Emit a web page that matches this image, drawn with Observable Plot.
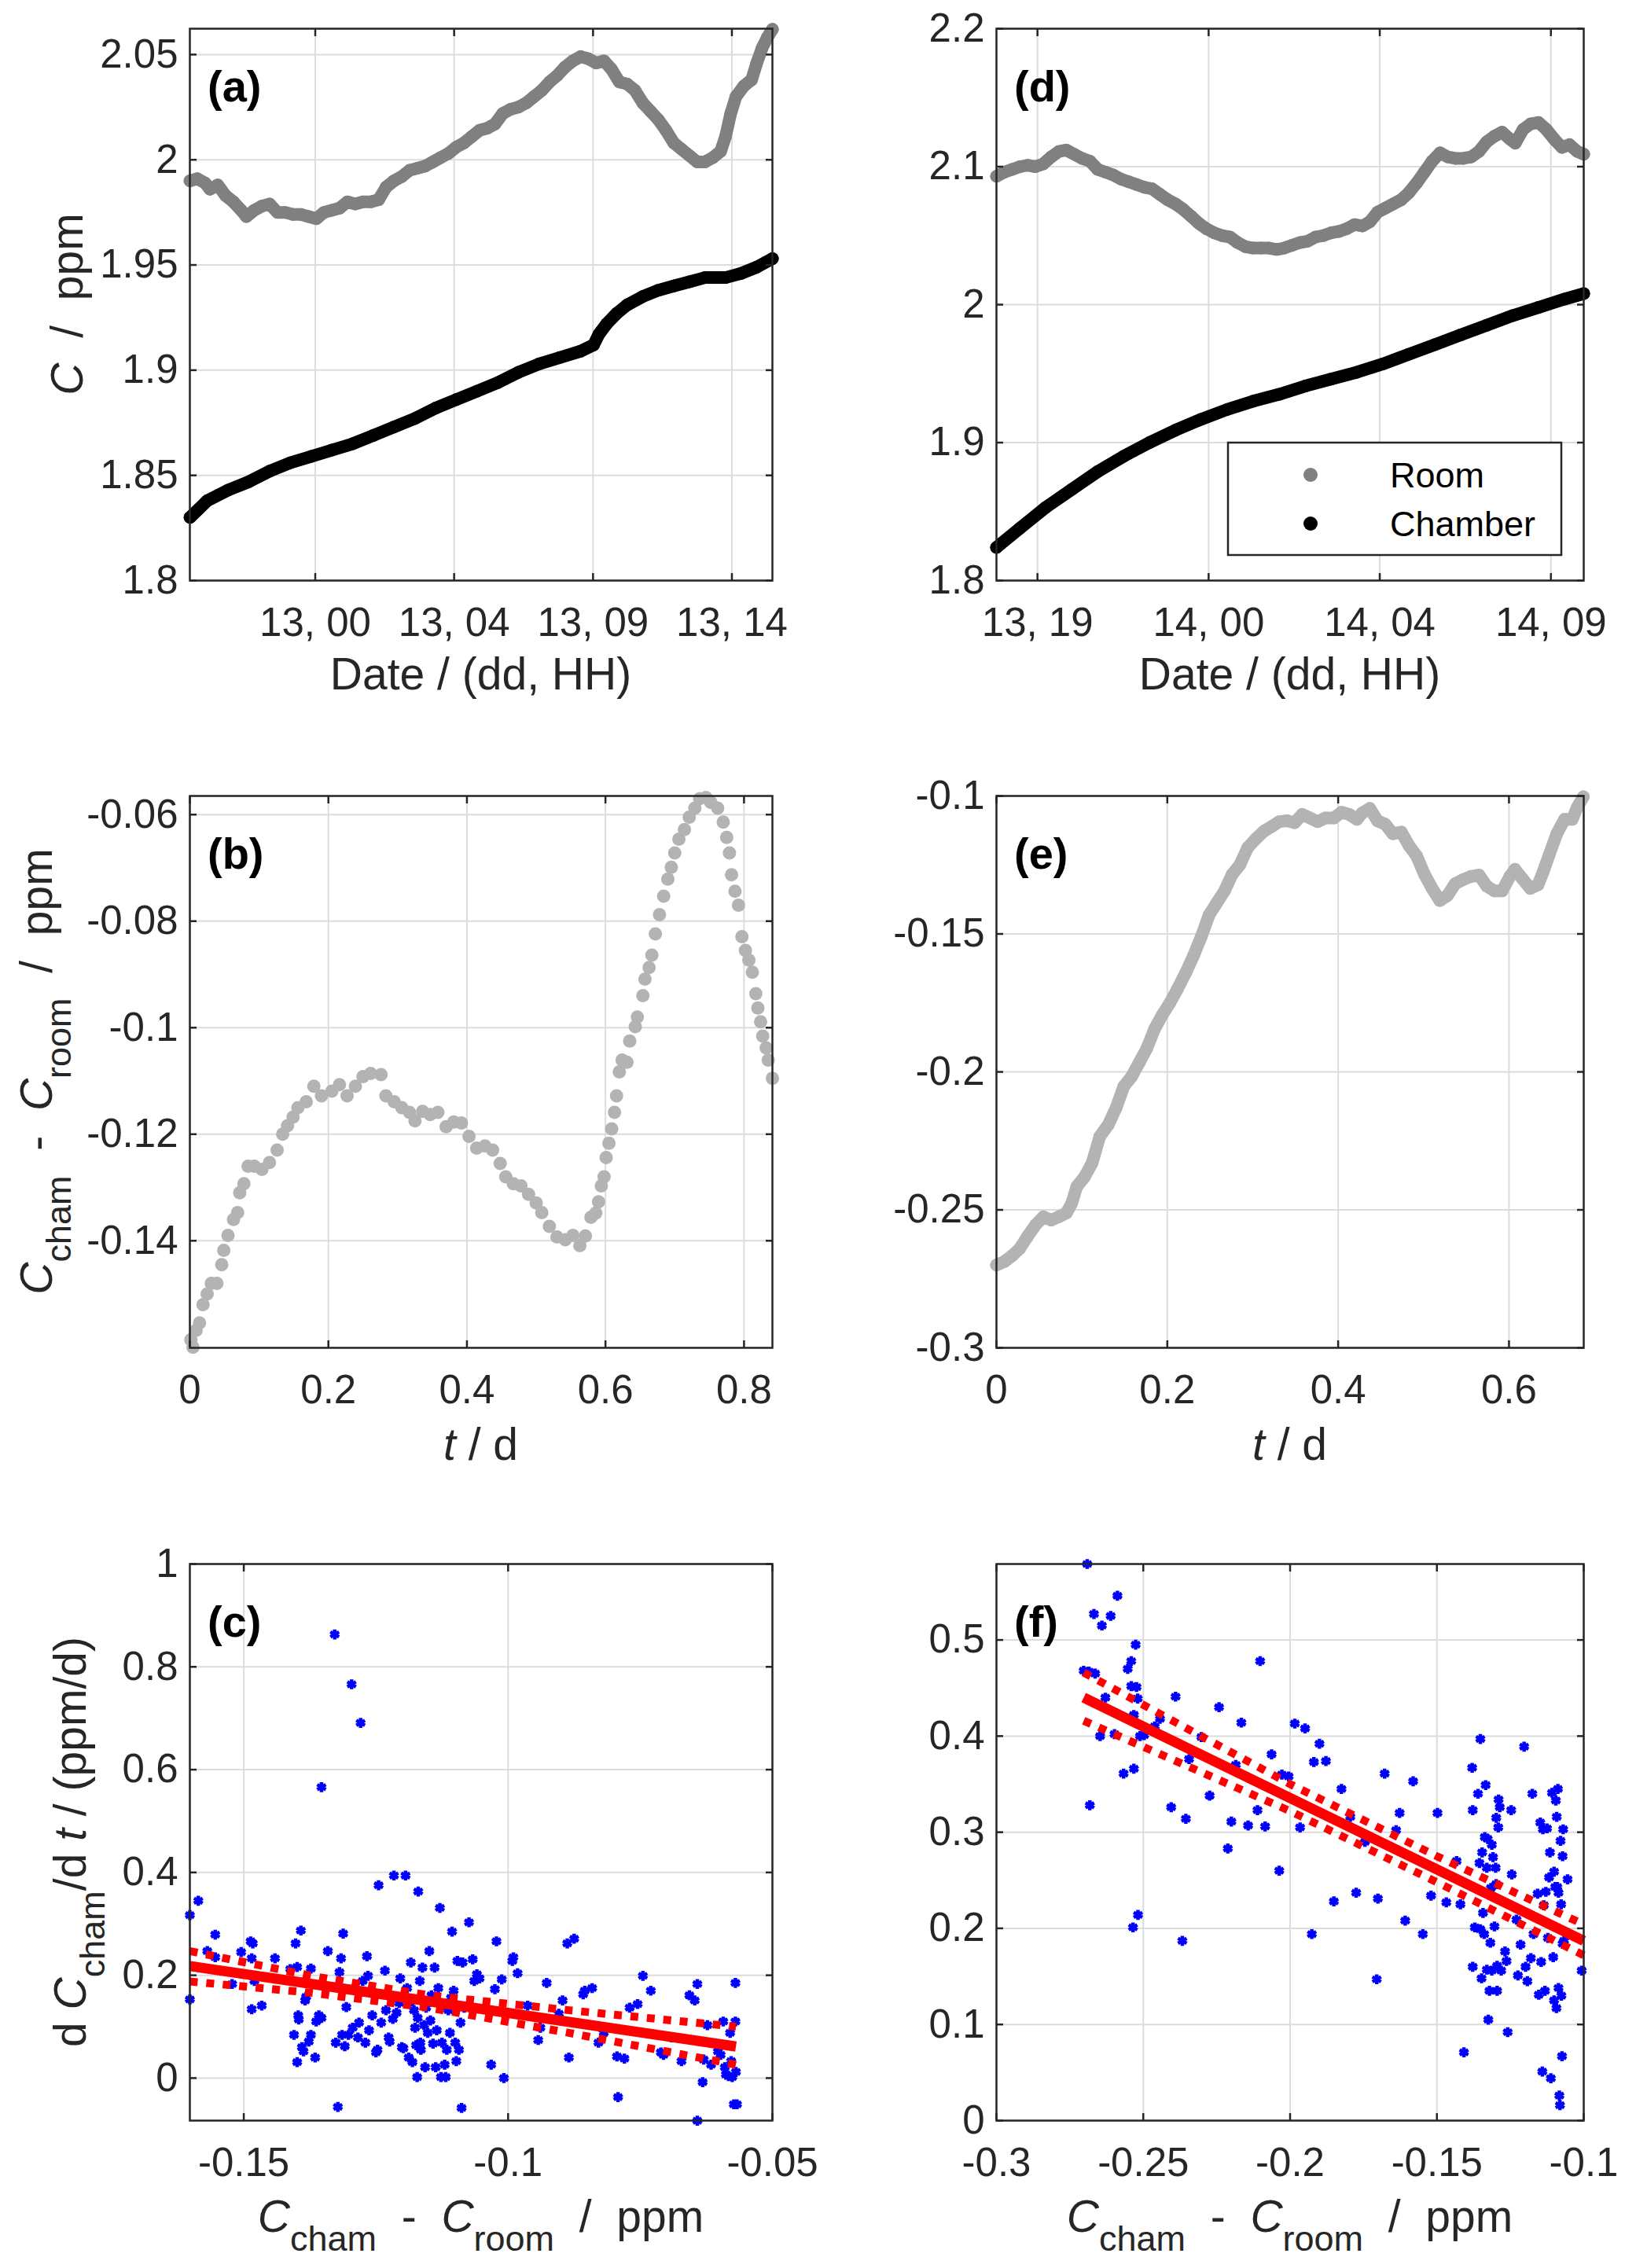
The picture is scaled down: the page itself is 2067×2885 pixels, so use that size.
<!DOCTYPE html>
<html><head><meta charset="utf-8">
<script src="https://cdn.jsdelivr.net/npm/d3@7"></script>
<script src="https://cdn.jsdelivr.net/npm/@observablehq/plot@0.6"></script>
<style>
body{margin:0;background:#fff;}
#fig{position:relative;width:2067px;height:2885px;background:#fff;overflow:hidden;}
#fig svg{position:absolute;overflow:visible;}
</style></head><body><div id="fig"></div>
<script>
// ---------- DATA ----------
// Panel (a): hours relative to day 13 00:00, concentration ppm
const roomA = [[-4.33,1.990],[-4.08,1.991],[-3.81,1.989],[-3.64,1.986],[-3.37,1.988],[-3.10,1.983],[-2.83,1.980],[-2.56,1.976],[-2.38,1.973],[-2.11,1.976],[-1.84,1.978],[-1.58,1.979],[-1.31,1.975],[-1.04,1.975],[-0.77,1.974],[-0.50,1.974],[-0.23,1.973],[0.04,1.972],[0.30,1.975],[0.57,1.976],[0.84,1.977],[1.11,1.980],[1.38,1.979],[1.65,1.980],[1.92,1.980],[2.19,1.981],[2.45,1.987],[2.72,1.990],[2.99,1.992],[3.26,1.995],[3.53,1.996],[3.80,1.997],[4.07,1.999],[4.33,2.001],[4.60,2.003],[4.87,2.006],[5.14,2.008],[5.41,2.011],[5.68,2.014],[5.95,2.015],[6.21,2.017],[6.48,2.022],[6.75,2.024],[7.02,2.025],[7.29,2.027],[7.56,2.030],[7.83,2.033],[8.10,2.037],[8.36,2.040],[8.63,2.044],[8.90,2.047],[9.17,2.049],[9.44,2.048],[9.71,2.046],[9.98,2.047],[10.24,2.043],[10.51,2.037],[10.78,2.036],[11.05,2.033],[11.32,2.027],[11.59,2.023],[11.86,2.019],[12.12,2.014],[12.39,2.008],[12.66,2.005],[12.93,2.002],[13.20,1.999],[13.47,1.999],[13.74,2.001],[14.01,2.004],[14.18,2.011],[14.36,2.022],[14.54,2.030],[14.81,2.035],[15.08,2.038],[15.26,2.046],[15.44,2.053],[15.62,2.058],[15.80,2.062]];
const chamberA = [[-4.33,1.830],[-3.73,1.838],[-3.01,1.843],[-2.29,1.847],[-1.58,1.852],[-0.86,1.856],[-0.14,1.859],[0.57,1.862],[1.29,1.865],[2.01,1.869],[2.72,1.873],[3.44,1.877],[4.16,1.882],[4.87,1.886],[5.59,1.890],[6.30,1.894],[7.02,1.899],[7.74,1.903],[8.45,1.906],[9.17,1.909],[9.62,1.912],[9.80,1.917],[10.07,1.922],[10.42,1.927],[10.78,1.931],[11.32,1.935],[11.86,1.938],[12.39,1.940],[12.93,1.942],[13.47,1.944],[14.18,1.944],[14.72,1.946],[15.26,1.949],[15.80,1.953]];
const xTicksA = [0, 4.8, 9.6, 14.4];
const xLabelsA = ["13, 00", "13, 04", "13, 09", "13, 14"];
const yTicksA = [1.8, 1.85, 1.9, 1.95, 2, 2.05];

// Panel (d): hours relative to day 14 00:00
const roomD = [[-5.95,2.093],[-5.73,2.096],[-5.51,2.098],[-5.29,2.100],[-5.08,2.101],[-4.86,2.100],[-4.64,2.102],[-4.42,2.107],[-4.20,2.111],[-3.99,2.112],[-3.77,2.109],[-3.55,2.106],[-3.33,2.104],[-3.11,2.098],[-2.89,2.096],[-2.68,2.094],[-2.46,2.091],[-2.24,2.089],[-2.02,2.087],[-1.80,2.085],[-1.59,2.084],[-1.37,2.080],[-1.15,2.076],[-0.93,2.073],[-0.71,2.069],[-0.49,2.064],[-0.28,2.059],[-0.06,2.055],[0.16,2.052],[0.38,2.050],[0.60,2.049],[0.81,2.045],[1.03,2.042],[1.25,2.041],[1.47,2.041],[1.69,2.041],[1.91,2.040],[2.12,2.041],[2.34,2.043],[2.56,2.045],[2.78,2.046],[3.00,2.049],[3.21,2.050],[3.43,2.052],[3.65,2.053],[3.87,2.055],[4.09,2.058],[4.31,2.057],[4.52,2.060],[4.74,2.067],[4.96,2.070],[5.18,2.073],[5.40,2.076],[5.61,2.081],[5.83,2.088],[6.05,2.096],[6.27,2.104],[6.49,2.110],[6.71,2.107],[6.92,2.106],[7.14,2.106],[7.36,2.107],[7.58,2.111],[7.80,2.118],[8.01,2.122],[8.23,2.125],[8.45,2.120],[8.60,2.117],[8.82,2.127],[9.03,2.131],[9.25,2.132],[9.47,2.127],[9.69,2.120],[9.91,2.114],[10.12,2.116],[10.34,2.111],[10.52,2.109]];
const chamberD = [[-5.95,1.824],[-5.29,1.838],[-4.57,1.853],[-3.84,1.866],[-3.11,1.879],[-2.39,1.890],[-1.66,1.900],[-0.93,1.909],[-0.20,1.917],[0.52,1.924],[1.25,1.930],[1.98,1.935],[2.71,1.941],[3.43,1.946],[4.16,1.951],[4.89,1.957],[5.61,1.964],[6.34,1.971],[7.07,1.978],[7.80,1.985],[8.52,1.992],[9.25,1.998],[9.98,2.004],[10.52,2.008]];
const xTicksD = [-4.8, 0, 4.8, 9.6];
const xLabelsD = ["13, 19", "14, 00", "14, 04", "14, 09"];
const yTicksD = [1.8, 1.9, 2, 2.1, 2.2];
const legendNames = ["Room", "Chamber"];
const legendColors = ["#808080", "#000000"];

// Panel (b): t / d, C_cham - C_room / ppm
const diffB = [[0.0015,-0.1586],[0.0045,-0.160],[0.009,-0.1568],[0.014,-0.1554],[0.019,-0.152],[0.025,-0.150],[0.031,-0.148],[0.039,-0.148],[0.046,-0.1445],[0.049,-0.1418],[0.055,-0.139],[0.063,-0.136],[0.069,-0.1347],[0.072,-0.131],[0.078,-0.1293],[0.084,-0.126],[0.093,-0.126],[0.104,-0.1266],[0.115,-0.1253],[0.126,-0.123],[0.134,-0.120],[0.141,-0.1184],[0.149,-0.1168],[0.156,-0.115],[0.168,-0.1139],[0.179,-0.111],[0.190,-0.1128],[0.205,-0.1119],[0.216,-0.1107],[0.227,-0.1128],[0.239,-0.111],[0.250,-0.1092],[0.261,-0.1086],[0.276,-0.1088],[0.283,-0.1128],[0.295,-0.1139],[0.306,-0.115],[0.317,-0.1159],[0.325,-0.1175],[0.336,-0.1157],[0.347,-0.1163],[0.358,-0.1159],[0.370,-0.1186],[0.381,-0.1177],[0.392,-0.1179],[0.403,-0.1204],[0.414,-0.1226],[0.426,-0.1222],[0.437,-0.123],[0.448,-0.1255],[0.456,-0.128],[0.467,-0.1293],[0.478,-0.1297],[0.489,-0.1313],[0.500,-0.1329],[0.508,-0.1347],[0.519,-0.1373],[0.530,-0.1393],[0.542,-0.1398],[0.553,-0.139],[0.563,-0.1409],[0.571,-0.1391],[0.579,-0.1356],[0.586,-0.1348],[0.590,-0.1327],[0.594,-0.1297],[0.598,-0.128],[0.601,-0.1244],[0.605,-0.1217],[0.609,-0.119],[0.613,-0.1159],[0.616,-0.1128],[0.620,-0.1083],[0.624,-0.1061],[0.631,-0.1065],[0.635,-0.1025],[0.643,-0.0998],[0.646,-0.098],[0.654,-0.094],[0.657,-0.0909],[0.663,-0.0887],[0.667,-0.0864],[0.672,-0.0824],[0.678,-0.0788],[0.684,-0.0753],[0.690,-0.0721],[0.695,-0.0699],[0.700,-0.0672],[0.706,-0.0646],[0.714,-0.0628],[0.721,-0.0605],[0.729,-0.0588],[0.736,-0.057],[0.745,-0.0568],[0.752,-0.0577],[0.762,-0.0588],[0.770,-0.0614],[0.775,-0.0643],[0.779,-0.0672],[0.782,-0.0713],[0.787,-0.0744],[0.792,-0.077],[0.797,-0.0829],[0.802,-0.0855],[0.807,-0.0873],[0.812,-0.0896],[0.817,-0.0936],[0.820,-0.0963],[0.824,-0.0989],[0.827,-0.1016],[0.832,-0.1038],[0.835,-0.1061],[0.841,-0.1095]];
const xTicksB = [0, 0.2, 0.4, 0.6, 0.8];
const yTicksB = [-0.14, -0.12, -0.1, -0.08, -0.06];

// Panel (e)
const diffE = [[0,-0.270],[0.009,-0.2688],[0.018,-0.2667],[0.027,-0.2641],[0.036,-0.2598],[0.046,-0.2554],[0.055,-0.2525],[0.064,-0.2537],[0.073,-0.2525],[0.082,-0.2511],[0.088,-0.2477],[0.094,-0.2416],[0.103,-0.2381],[0.112,-0.233],[0.121,-0.2234],[0.131,-0.2191],[0.140,-0.2131],[0.149,-0.2053],[0.158,-0.2018],[0.167,-0.1967],[0.176,-0.1915],[0.185,-0.1845],[0.194,-0.1794],[0.203,-0.175],[0.212,-0.1699],[0.222,-0.1638],[0.231,-0.1577],[0.240,-0.1508],[0.249,-0.1431],[0.258,-0.1387],[0.267,-0.1344],[0.276,-0.1284],[0.285,-0.1249],[0.294,-0.1188],[0.304,-0.1154],[0.313,-0.1128],[0.322,-0.1111],[0.331,-0.1093],[0.340,-0.109],[0.349,-0.1097],[0.358,-0.1067],[0.367,-0.108],[0.376,-0.1093],[0.385,-0.108],[0.395,-0.108],[0.404,-0.1059],[0.413,-0.1067],[0.422,-0.1085],[0.428,-0.1062],[0.437,-0.1045],[0.446,-0.109],[0.455,-0.1102],[0.464,-0.1137],[0.474,-0.1131],[0.483,-0.118],[0.492,-0.1218],[0.501,-0.1284],[0.510,-0.1335],[0.519,-0.1379],[0.528,-0.1361],[0.537,-0.1318],[0.546,-0.1304],[0.555,-0.1292],[0.565,-0.1287],[0.574,-0.1327],[0.583,-0.1344],[0.592,-0.1344],[0.601,-0.1292],[0.607,-0.1266],[0.616,-0.1301],[0.625,-0.1335],[0.634,-0.1322],[0.640,-0.1275],[0.647,-0.1214],[0.656,-0.1137],[0.665,-0.1085],[0.674,-0.1085],[0.680,-0.1041],[0.687,-0.1003]];
const xTicksE = [0, 0.2, 0.4, 0.6];
const yTicksE = [-0.3, -0.25, -0.2, -0.15, -0.1];

// Panel (c): x = C_cham - C_room, y = dC_cham/dt
const rateC = [[-0.1602,0.317],[-0.1586,0.345],[-0.1602,0.153],[-0.1554,0.279],[-0.1569,0.247],[-0.1554,0.235],[-0.1522,0.183],[-0.1505,0.245],[-0.1487,0.266],[-0.1483,0.262],[-0.1485,0.233],[-0.1485,0.134],[-0.148,0.189],[-0.1466,0.141],[-0.1441,0.233],[-0.1412,0.212],[-0.1402,0.262],[-0.1399,0.216],[-0.1397,0.122],[-0.1396,0.114],[-0.1405,0.084],[-0.1399,0.031],[-0.1392,0.287],[-0.139,0.060],[-0.1387,0.052],[-0.1384,0.151],[-0.1382,0.158],[-0.1377,0.071],[-0.1373,0.084],[-0.1373,0.213],[-0.1365,0.040],[-0.1363,0.110],[-0.1358,0.122],[-0.1353,0.117],[-0.1353,0.566],[-0.1341,0.247],[-0.1328,0.863],[-0.1326,0.069],[-0.1322,-0.056],[-0.1319,0.206],[-0.1316,0.233],[-0.1314,0.084],[-0.1312,0.281],[-0.1309,0.062],[-0.1306,0.138],[-0.1302,0.084],[-0.1296,0.766],[-0.1294,0.098],[-0.1289,0.175],[-0.1284,0.079],[-0.1282,0.108],[-0.1279,0.691],[-0.1275,0.189],[-0.127,0.069],[-0.1267,0.237],[-0.1265,0.199],[-0.1263,0.093],[-0.1257,0.122],[-0.125,0.050],[-0.1247,0.055],[-0.1245,0.375],[-0.124,0.108],[-0.1233,0.209],[-0.1231,0.132],[-0.1226,0.079],[-0.1224,0.071],[-0.1218,0.115],[-0.1216,0.394],[-0.1211,0.127],[-0.1206,0.146],[-0.1204,0.194],[-0.1201,0.060],[-0.1198,0.058],[-0.1194,0.394],[-0.1191,0.175],[-0.1188,0.040],[-0.1186,0.146],[-0.1184,0.225],[-0.1181,0.031],[-0.1178,0.132],[-0.1176,0.098],[-0.1174,0.064],[-0.1172,0.002],[-0.1171,0.117],[-0.117,0.363],[-0.1167,0.189],[-0.1166,0.069],[-0.1165,0.055],[-0.1162,0.215],[-0.1159,0.103],[-0.1157,0.021],[-0.1155,0.137],[-0.1152,0.088],[-0.1149,0.247],[-0.1147,0.112],[-0.1145,0.161],[-0.1142,0.067],[-0.1139,0.215],[-0.1137,0.021],[-0.1135,0.093],[-0.1132,0.175],[-0.1129,0.331],[-0.1127,0.002],[-0.1125,0.069],[-0.1123,0.141],[-0.112,0.026],[-0.1118,0.002],[-0.1116,0.055],[-0.1113,0.132],[-0.111,0.088],[-0.1108,0.156],[-0.1106,0.285],[-0.1103,0.170],[-0.11,0.069],[-0.1098,0.033],[-0.1096,0.228],[-0.1093,0.055],[-0.109,0.108],[-0.1088,-0.058],[-0.1086,0.225],[-0.1083,0.137],[-0.1074,0.303],[-0.1067,0.231],[-0.1064,0.189],[-0.1059,0.202],[-0.1054,0.194],[-0.1032,0.026],[-0.1025,0.173],[-0.1022,0.266],[-0.1012,0.192],[-0.1008,0.000],[-0.0992,0.228],[-0.099,0.235],[-0.0982,0.204],[-0.0963,0.141],[-0.0943,0.074],[-0.0939,0.098],[-0.0927,0.185],[-0.0904,0.125],[-0.0897,0.151],[-0.0888,0.262],[-0.0885,0.040],[-0.0875,0.271],[-0.0858,0.163],[-0.0855,0.170],[-0.0841,0.175],[-0.0829,0.069],[-0.0819,0.088],[-0.0794,0.042],[-0.0792,-0.037],[-0.078,0.038],[-0.077,0.137],[-0.0755,0.144],[-0.0745,0.199],[-0.073,0.170],[-0.0711,0.050],[-0.0706,0.045],[-0.0691,0.079],[-0.0672,0.033],[-0.0657,0.161],[-0.0647,0.151],[-0.0642,0.183],[-0.0642,-0.083],[-0.0632,-0.008],[-0.063,0.036],[-0.0623,0.103],[-0.0616,0.026],[-0.0603,0.052],[-0.0598,0.045],[-0.0593,0.110],[-0.059,0.021],[-0.0588,0.007],[-0.0583,0.004],[-0.058,0.088],[-0.0578,0.033],[-0.0576,0.002],[-0.0573,-0.051],[-0.057,0.185],[-0.057,0.110],[-0.0569,0.012],[-0.0567,-0.051]];
const fitC = [[-0.1602,0.218],[-0.0569,0.0615]];
const upperC = [[-0.1602,0.247],[-0.1373,0.199],[-0.115,0.161],[-0.0885,0.132],[-0.0569,0.100]];
const lowerC = [[-0.1602,0.188],[-0.1373,0.166],[-0.115,0.137],[-0.0885,0.088],[-0.0569,0.026]];
const xTicksC = [-0.15, -0.1, -0.05];
const yTicksC = [0, 0.2, 0.4, 0.6, 0.8, 1];

// Panel (f)
const rateF = [[-0.2691,0.579],[-0.2668,0.527],[-0.2641,0.515],[-0.2611,0.525],[-0.2588,0.546],[-0.2703,0.468],[-0.2685,0.467],[-0.2664,0.465],[-0.2682,0.328],[-0.2647,0.400],[-0.2629,0.440],[-0.2598,0.402],[-0.2567,0.361],[-0.2553,0.470],[-0.2541,0.478],[-0.2541,0.452],[-0.2532,0.366],[-0.2526,0.495],[-0.2523,0.451],[-0.2519,0.439],[-0.2532,0.422],[-0.2535,0.201],[-0.2518,0.214],[-0.2511,0.400],[-0.2497,0.401],[-0.2461,0.410],[-0.2443,0.418],[-0.239,0.441],[-0.2405,0.326],[-0.2367,0.187],[-0.2355,0.314],[-0.2344,0.376],[-0.2302,0.399],[-0.2274,0.338],[-0.2242,0.430],[-0.2212,0.283],[-0.22,0.311],[-0.2185,0.370],[-0.2166,0.414],[-0.2143,0.307],[-0.2111,0.323],[-0.2102,0.478],[-0.2085,0.306],[-0.2063,0.381],[-0.2037,0.260],[-0.2028,0.360],[-0.2005,0.358],[-0.1984,0.413],[-0.1966,0.305],[-0.1949,0.408],[-0.1926,0.194],[-0.1919,0.373],[-0.19,0.392],[-0.1878,0.374],[-0.1851,0.228],[-0.1825,0.345],[-0.1795,0.316],[-0.1775,0.237],[-0.1745,0.290],[-0.1705,0.147],[-0.1701,0.231],[-0.1678,0.361],[-0.1639,0.302],[-0.1627,0.320],[-0.1608,0.208],[-0.1581,0.353],[-0.1548,0.194],[-0.152,0.234],[-0.1498,0.320],[-0.1468,0.227],[-0.1433,0.270],[-0.142,0.225],[-0.1408,0.071],[-0.138,0.367],[-0.1378,0.323],[-0.1378,0.160],[-0.1371,0.201],[-0.136,0.340],[-0.1355,0.268],[-0.1352,0.397],[-0.1352,0.199],[-0.1348,0.148],[-0.1346,0.279],[-0.1343,0.216],[-0.1339,0.194],[-0.1337,0.295],[-0.1334,0.349],[-0.133,0.263],[-0.133,0.157],[-0.1327,0.293],[-0.1325,0.105],[-0.1321,0.135],[-0.1318,0.185],[-0.1316,0.242],[-0.1313,0.287],[-0.1313,0.156],[-0.1309,0.274],[-0.1304,0.202],[-0.13,0.263],[-0.1298,0.246],[-0.1298,0.315],[-0.1295,0.161],[-0.1295,0.135],[-0.1291,0.305],[-0.129,0.334],[-0.1286,0.326],[-0.1281,0.156],[-0.1268,0.176],[-0.1263,0.166],[-0.1259,0.092],[-0.1247,0.323],[-0.1245,0.256],[-0.1229,0.209],[-0.1224,0.151],[-0.1215,0.183],[-0.1203,0.389],[-0.1198,0.160],[-0.1192,0.145],[-0.118,0.169],[-0.1175,0.340],[-0.1171,0.194],[-0.1157,0.236],[-0.1153,0.131],[-0.1148,0.310],[-0.1145,0.165],[-0.1141,0.051],[-0.1139,0.303],[-0.1136,0.224],[-0.1132,0.135],[-0.1129,0.238],[-0.1125,0.304],[-0.1122,0.190],[-0.1118,0.253],[-0.1115,0.279],[-0.1112,0.044],[-0.1108,0.341],[-0.1104,0.170],[-0.1101,0.125],[-0.1101,0.259],[-0.1097,0.243],[-0.1095,0.333],[-0.1093,0.117],[-0.1092,0.316],[-0.109,0.243],[-0.1088,0.345],[-0.1086,0.237],[-0.1086,0.138],[-0.1083,0.026],[-0.1081,0.016],[-0.1079,0.291],[-0.1077,0.225],[-0.1076,0.130],[-0.1074,0.067],[-0.1072,0.184],[-0.1072,0.275],[-0.107,0.303],[-0.1067,0.187],[-0.1055,0.251],[-0.1007,0.156]];
const fitF = [[-0.2703,0.440],[-0.1,0.187]];
const upperF = [[-0.2703,0.466],[-0.2,0.350],[-0.15,0.275],[-0.1,0.204]];
const lowerF = [[-0.2703,0.416],[-0.2,0.322],[-0.15,0.248],[-0.1,0.172]];
const xTicksF = [-0.3, -0.25, -0.2, -0.15, -0.1];
const yTicksF = [0, 0.1, 0.2, 0.3, 0.4, 0.5];

// ---------- DRAWING ----------
const FONT = "'Liberation Sans', Arial, Helvetica, sans-serif";
const INK = "#262626";
const GRID = "#dcdcdc";
const fig = document.getElementById("fig");
const X = d => d[0], Y = d => d[1];

function panel(o) {
  const [cx, cy, cw, ch] = o.cell;
  const [fl, ft, fr, fb] = o.frame;
  const xfmt = o.xLabels ? (d => o.xLabels[o.xTicks.indexOf(d)]) : (d => String(d));
  const svg = Plot.plot({
    width: cw, height: ch,
    marginLeft: fl - cx, marginTop: ft - cy, marginRight: cx + cw - fr, marginBottom: cy + ch - fb,
    x: {domain: o.xDomain, label: null},
    y: {domain: o.yDomain, label: null},
    style: {fontFamily: FONT, fontSize: "51px", color: INK, background: "transparent", overflow: "visible"},
    marks: [
      Plot.gridX(o.xTicks, {stroke: GRID, strokeOpacity: 1, strokeWidth: 2}),
      Plot.gridY(o.yTicks, {stroke: GRID, strokeOpacity: 1, strokeWidth: 2}),
      ...o.marks,
      Plot.frame({stroke: INK, strokeWidth: 2.5}),
      Plot.axisX(o.xTicks, {anchor: "bottom", tickSize: -9, tickPadding: 43, tickFormat: xfmt, fontSize: 51, strokeWidth: 2.5, label: null}),
      Plot.axisX(o.xTicks, {anchor: "top", tickSize: -9, tickFormat: () => "", strokeWidth: 2.5, label: null}),
      Plot.axisY(o.yTicks, {anchor: "left", tickSize: -9, tickPadding: 24, tickFormat: d => String(d), fontSize: 51, strokeWidth: 2.5, label: null}),
      Plot.axisY(o.yTicks, {anchor: "right", tickSize: -9, tickFormat: () => "", strokeWidth: 2.5, label: null})
    ]
  });
  svg.style.left = cx + "px";
  svg.style.top = cy + "px";
  fig.appendChild(svg);
  const p = {svg, ox: cx, oy: cy};
  label(p, fl + 23, ft + 93, [o.letter], {fs: 56, bold: true, anchor: "start", color: "#000"});
  return p;
}

function label(p, ax, ay, parts, {rotate = 0, fs = 57, bold = false, anchor = "middle", color = INK} = {}) {
  const t = d3.select(p.svg).append("text")
    .attr("transform", `translate(${ax - p.ox},${ay - p.oy}) rotate(${rotate})`)
    .attr("text-anchor", anchor).attr("font-family", FONT).attr("font-size", fs).attr("fill", color);
  if (bold) t.attr("font-weight", "bold");
  let cur = 0;
  for (const q of parts) {
    const part = typeof q === "string" ? {t: q} : q;
    const s = t.append("tspan").text(part.t);
    const target = part.sub ? 24 : 0;
    if (target !== cur) { s.attr("dy", target - cur); cur = target; }
    if (part.sub) s.attr("font-size", 45);
    if (part.i) s.attr("font-style", "italic");
  }
}

const S = "\u00A0";
const dotLine = (data, color, r) => [
  Plot.line(data, {x: X, y: Y, stroke: color, strokeWidth: 2 * r, strokeLinejoin: "round", strokeLinecap: "round"}),
  Plot.dot(data, {x: X, y: Y, r, fill: color, stroke: null})
];
const fitMarks = (pts, fit, up, lo) => [
  Plot.dot(pts, {x: X, y: Y, symbol: "asterisk", r: 6, stroke: "#0000ff", strokeWidth: 4.5}),
  Plot.line(up, {x: X, y: Y, stroke: "#ff0000", strokeWidth: 10, strokeDasharray: "10,11", strokeLinecap: "butt"}),
  Plot.line(lo, {x: X, y: Y, stroke: "#ff0000", strokeWidth: 10, strokeDasharray: "10,11", strokeLinecap: "butt"}),
  Plot.line(fit, {x: X, y: Y, stroke: "#ff0000", strokeWidth: 13, strokeLinecap: "butt"})
];
const diffLabel = [{t: "C", i: true}, {t: "cham", sub: true}, `${S}${S}-${S}${S}`, {t: "C", i: true}, {t: "room", sub: true}, `${S}${S}/${S}${S}ppm`];

// (a)
const pa = panel({
  letter: "(a)", cell: [0, 0, 1033, 930], frame: [241, 36, 982, 738],
  xDomain: [-4.334, 15.80], yDomain: [1.8, 2.0623], xTicks: xTicksA, xLabels: xLabelsA, yTicks: yTicksA,
  marks: [...dotLine(roomA, legendColors[0], 8), ...dotLine(chamberA, legendColors[1], 8)]
});
label(pa, 611.5, 877, [`Date${S}/${S}(dd,${S}HH)`]);
label(pa, 105, 387, [{t: "C", i: true}, `${S}${S}/${S}${S}ppm`], {rotate: -90});

// (d)
const pd = panel({
  letter: "(d)", cell: [1033, 0, 1034, 930], frame: [1267, 36, 2014, 738],
  xDomain: [-5.95, 10.52], yDomain: [1.8, 2.2], xTicks: xTicksD, xLabels: xLabelsD, yTicks: yTicksD,
  marks: [...dotLine(roomD, legendColors[0], 8), ...dotLine(chamberD, legendColors[1], 8)]
});
label(pd, 1640.5, 877, [`Date${S}/${S}(dd,${S}HH)`]);
{
  const g = d3.select(pd.svg).append("g").attr("transform", `translate(${-pd.ox},${-pd.oy})`);
  g.append("rect").attr("x", 1562).attr("y", 563).attr("width", 424).attr("height", 143)
    .attr("fill", "#fff").attr("stroke", INK).attr("stroke-width", 2.5);
  legendNames.forEach((name, i) => {
    g.append("circle").attr("cx", 1667).attr("cy", 604 + 62 * i).attr("r", 9).attr("fill", legendColors[i]);
    g.append("text").attr("x", 1768).attr("y", 620 + 62 * i).attr("font-family", FONT)
      .attr("text-anchor", "start").attr("font-size", 45).attr("fill", "#000").text(name);
  });
}

// (b)
const pb = panel({
  letter: "(b)", cell: [0, 930, 1033, 970], frame: [241, 1012, 982, 1714],
  xDomain: [0, 0.841], yDomain: [-0.1601, -0.0565], xTicks: xTicksB, yTicks: yTicksB,
  marks: [Plot.dot(diffB, {x: X, y: Y, r: 8.5, fill: "#b3b3b3", stroke: null})]
});
label(pb, 611.5, 1857, [{t: "t", i: true}, `${S}/${S}d`]);
label(pb, 66, 1363, diffLabel, {rotate: -90});

// (e)
const pe = panel({
  letter: "(e)", cell: [1033, 930, 1034, 970], frame: [1267, 1012, 2014, 1714],
  xDomain: [0, 0.6875], yDomain: [-0.3, -0.1], xTicks: xTicksE, yTicks: yTicksE,
  marks: [...dotLine(diffE, "#b3b3b3", 8)]
});
label(pe, 1640.5, 1857, [{t: "t", i: true}, `${S}/${S}d`]);

// (c)
const pc = panel({
  letter: "(c)", cell: [0, 1900, 1033, 985], frame: [241, 1989, 982, 2697],
  xDomain: [-0.1602, -0.05], yDomain: [-0.0827, 1], xTicks: xTicksC, yTicks: yTicksC,
  marks: fitMarks(rateC, fitC, upperC, lowerC)
});
label(pc, 611.5, 2839, diffLabel);
label(pc, 109, 2343, [`d${S}`, {t: "C", i: true}, {t: "cham", sub: true}, `/d${S}`, {t: "t", i: true}, `${S}/${S}(ppm/d)`], {rotate: -90});

// (f)
const pf = panel({
  letter: "(f)", cell: [1033, 1900, 1034, 985], frame: [1267, 1989, 2014, 2697],
  xDomain: [-0.3, -0.1], yDomain: [0, 0.579], xTicks: xTicksF, yTicks: yTicksF,
  marks: fitMarks(rateF, fitF, upperF, lowerF)
});
label(pf, 1640.5, 2839, diffLabel);
</script></body></html>
